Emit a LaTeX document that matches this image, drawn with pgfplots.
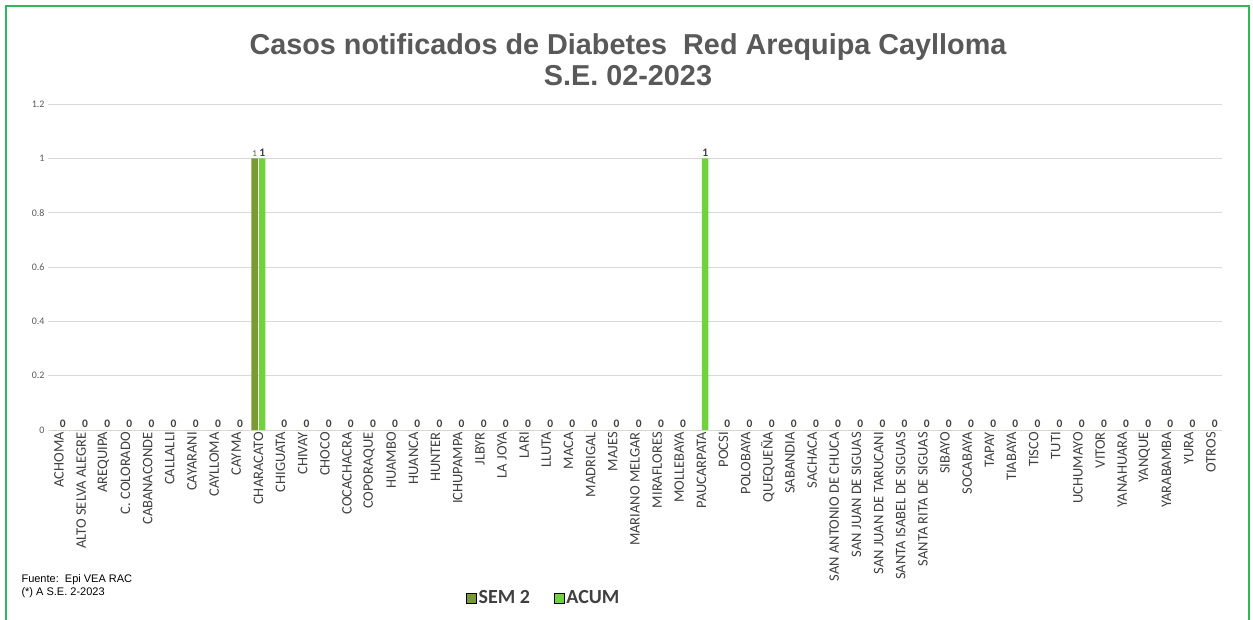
\documentclass[border=0pt]{standalone}
\usepackage{fontspec}
\setmainfont{Carlito}
\newfontfamily\arialf{Liberation Sans}
\usepackage{pgfplots}
\pgfplotsset{compat=1.18}
\definecolor{semc}{HTML}{7A9B32}
\definecolor{semd}{HTML}{5E7A22}
\definecolor{acuc}{HTML}{70D23E}
\definecolor{acud}{HTML}{58B02A}
\definecolor{gridc}{HTML}{D9D9D9}
\definecolor{txtc}{HTML}{595959}
\definecolor{lblc}{HTML}{404040}
\definecolor{bordc}{HTML}{2DB85A}
\begin{document}
\begin{tikzpicture}
\useasboundingbox (0,0) rectangle (1253pt,619pt);
\draw[bordc, line width=1.6pt] (6pt,-2pt) -- (6pt,613pt) -- (1249pt,613pt) -- (1249pt,-2pt);
\node[font=\arialf\bfseries\fontsize{28.8}{32}\selectfont, text=txtc] at (628pt,572pt) {Casos notificados de Diabetes\ \ Red Arequipa Caylloma};
\node[font=\arialf\bfseries\fontsize{28.8}{32}\selectfont, text=txtc] at (628pt,543pt) {S.E. 02-2023};
\node[font=\arialf\fontsize{11}{13}\selectfont, anchor=west, text=black] at (18pt,39pt) {Fuente:\ \ Epi VEA RAC};
\node[font=\arialf\fontsize{11}{13}\selectfont, anchor=west, text=black] at (18pt,26pt) {(*) A S.E. 2-2023};
\begin{axis}[
  at={(48pt,189pt)}, anchor=south west,
  width=1174pt, height=326pt, scale only axis,
  /pgf/number format/assume math mode=true,
  ybar, bar width=6.5pt,
  xmin=-0.5, xmax=52.5, ymin=0, ymax=1.2,
  ytick={0,0.2,0.4,0.6,0.8,1,1.2},
  yticklabels={0,0.2,0.4,0.6,0.8,1,1.2},
  yticklabel style={font=\fontsize{10}{12}\selectfont, text=txtc},
  ymajorgrids, grid style={gridc, line width=0.8pt},
  axis line style={draw=none},
  major tick length=0pt,
  xtick={0,...,52},
  xticklabels={ACHOMA,ALTO SELVA ALEGRE,AREQUIPA,C. COLORADO,CABANACONDE,CALLALLI,CAYARANI,CAYLLOMA,CAYMA,CHARACATO,CHIGUATA,CHIVAY,CHOCO,COCACHACRA,COPORAQUE,HUAMBO,HUANCA,HUNTER,ICHUPAMPA,JLBYR,LA JOYA,LARI,LLUTA,MACA,MADRIGAL,MAJES,MARIANO MELGAR,MIRAFLORES,MOLLEBAYA,PAUCARPATA,POCSI,POLOBAYA,QUEQUEÑA,SABANDIA,SACHACA,SAN ANTONIO DE CHUCA,SAN JUAN DE SIGUAS,SAN JUAN DE TARUCANI,SANTA ISABEL DE SIGUAS,SANTA RITA DE SIGUAS,SIBAYO,SOCABAYA,TAPAY,TIABAYA,TISCO,TUTI,UCHUMAYO,VITOR,YANAHUARA,YANQUE,YARABAMBA,YURA,OTROS},
  xticklabel style={rotate=90, anchor=east, font=\fontsize{14.5}{16}\selectfont, text=lblc, inner sep=2pt},
  xtick pos=bottom,
  clip=false,
  legend style={at={(0.4224,-0.515)}, anchor=center, draw=none, fill=none,
    legend columns=2, font=\bfseries\fontsize{20}{22}\selectfont, text=lblc,
    /tikz/every even column/.append style={column sep=22pt}},
  legend image code/.code={\draw[#1] (0pt,-5pt) rectangle (10pt,5pt);},
]
\addplot[fill=semc, draw=none, bar shift=-3.8pt,
  visualization depends on=rawy \as \rawy,
  nodes near coords={\ifdim\rawy pt>0.5pt 1\fi},
  every node near coord/.append style={font=\fontsize{9}{11}\selectfont, text=txtc, inner sep=2pt}]
coordinates {(0,0)(1,0)(2,0)(3,0)(4,0)(5,0)(6,0)(7,0)(8,0)(9,1)(10,0)(11,0)(12,0)(13,0)(14,0)(15,0)(16,0)(17,0)(18,0)(19,0)(20,0)(21,0)(22,0)(23,0)(24,0)(25,0)(26,0)(27,0)(28,0)(29,0)(30,0)(31,0)(32,0)(33,0)(34,0)(35,0)(36,0)(37,0)(38,0)(39,0)(40,0)(41,0)(42,0)(43,0)(44,0)(45,0)(46,0)(47,0)(48,0)(49,0)(50,0)(51,0)(52,0)};
\addlegendentry{SEM 2}
\addplot[fill=acuc, draw=none, bar shift=3.8pt,
  nodes near coords,
  every node near coord/.append style={font=\bfseries\fontsize{11.5}{13}\selectfont, text=lblc, inner sep=2pt}]
coordinates {(0,0)(1,0)(2,0)(3,0)(4,0)(5,0)(6,0)(7,0)(8,0)(9,1)(10,0)(11,0)(12,0)(13,0)(14,0)(15,0)(16,0)(17,0)(18,0)(19,0)(20,0)(21,0)(22,0)(23,0)(24,0)(25,0)(26,0)(27,0)(28,0)(29,1)(30,0)(31,0)(32,0)(33,0)(34,0)(35,0)(36,0)(37,0)(38,0)(39,0)(40,0)(41,0)(42,0)(43,0)(44,0)(45,0)(46,0)(47,0)(48,0)(49,0)(50,0)(51,0)(52,0)};
\addlegendentry{ACUM}
\end{axis}
\end{tikzpicture}
\end{document}
